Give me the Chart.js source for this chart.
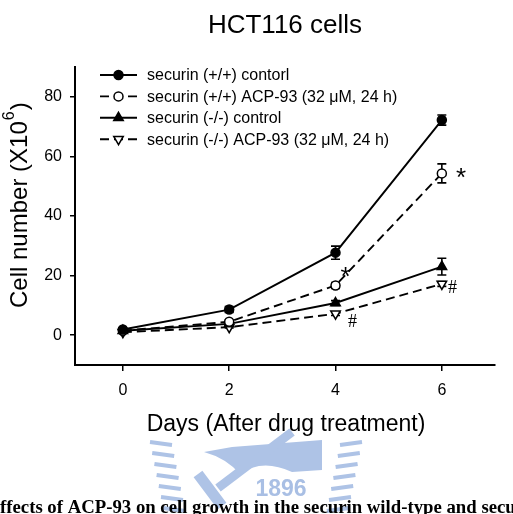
<!DOCTYPE html>
<html>
<head>
<meta charset="utf-8">
<script src="https://cdn.jsdelivr.net/npm/chart.js@4.4.1/dist/chart.umd.min.js"></script>
<style>
html, body { margin: 0; padding: 0; background: #fff; }
#chart { display: block; }
</style>
</head>
<body>
<canvas id="chart" width="513" height="514"></canvas>
<script>
// data
const days = [0, 2, 4, 6];
const seriesLabels = [
  'securin (+/+) contorl',
  'securin (+/+) ACP-93 (32 \u03BCM, 24 h)',
  'securin (-/-) control',
  'securin (-/-) ACP-93 (32 \u03BCM, 24 h)'
];
const wtControl = [1.9, 8.6, 27.7, 72.2];
const wtControlErr = [0.5, 1.0, 2.2, 1.7];
const wtAcp = [1.5, 4.5, 16.7, 54.3];
const wtAcpErr = [0.3, 0.6, 1.0, 3.2];
const koControl = [1.5, 3.8, 10.8, 23.0];
const koControlErr = [0.3, 0.4, 0.8, 2.8];
const koAcp = [1.0, 2.7, 7.2, 17.2];
const koAcpErr = [0.2, 0.3, 0.6, 0.8];
const xTicks = [0, 2, 4, 6];
const yTicks = [0, 20, 40, 60, 80];
// significance marks (day, value)
const sigText = ['*', '*', '#', '#'];
const sigDay = [6.36, 4.19, 4.32, 6.2];
const sigValue = [55.2, 21.7, 4.7, 16.3];

const FONT = '"Liberation Sans", Arial, sans-serif';
const errs = [wtControlErr, wtAcpErr, koControlErr, koAcpErr];

function makeSet(label, values, style, dash, fill, rot) {
  return {
    label: label,
    data: days.map((d, i) => ({ x: d, y: values[i] })),
    borderColor: '#000',
    borderWidth: 1.9,
    borderDash: dash,
    pointStyle: style,
    pointRadius: style === 'triangle' ? 5.5 : 4.5,
    pointRotation: rot,
    pointBackgroundColor: fill,
    pointBorderColor: '#000',
    pointBorderWidth: 1.5,
    fill: false,
    tension: 0
  };
}

const errorBars = {
  id: 'errorBars',
  beforeDatasetsDraw(chart) {
    const ctx = chart.ctx;
    const xs = chart.scales.x, ys = chart.scales.y;
    ctx.save();
    ctx.strokeStyle = '#000';
    ctx.lineWidth = 1.6;
    chart.data.datasets.forEach((set, i) => {
      set.data.forEach((p, j) => {
        const px = xs.getPixelForValue(p.x);
        const top = ys.getPixelForValue(p.y + errs[i][j]);
        const bot = ys.getPixelForValue(p.y - errs[i][j]);
        ctx.beginPath();
        ctx.moveTo(px, top); ctx.lineTo(px, bot);
        ctx.moveTo(px - 4.5, top); ctx.lineTo(px + 4.5, top);
        ctx.moveTo(px - 4.5, bot); ctx.lineTo(px + 4.5, bot);
        ctx.stroke();
      });
    });
    ctx.restore();
  }
};

const watermark = {
  id: 'watermark',
  beforeDraw(chart) {
    const ctx = chart.ctx;
    ctx.save();
    ctx.fillStyle = '#aec3e6';
    ctx.strokeStyle = '#aec3e6';
    // side stripes
    ctx.lineWidth = 4;
    for (let k = 0; k < 7; k++) {
      const yy = 442 + k * 11;
      ctx.beginPath();
      ctx.moveTo(150 + k * 2.2, yy); ctx.lineTo(172 + k * 2.2, yy + 3);
      ctx.stroke();
      ctx.beginPath();
      ctx.moveTo(362 - k * 2.2, yy); ctx.lineTo(340 - k * 2.2, yy + 3);
      ctx.stroke();
    }
    // anvil
    ctx.beginPath();
    ctx.moveTo(204, 452);
    ctx.lineTo(232, 447);
    ctx.lineTo(322, 440);
    ctx.lineTo(322, 470);
    ctx.lineTo(292, 472);
    ctx.quadraticCurveTo(262, 458, 240, 474);
    ctx.quadraticCurveTo(226, 458, 204, 452);
    ctx.fill();
    // hammer
    ctx.lineWidth = 9;
    ctx.beginPath();
    ctx.moveTo(218, 488); ctx.lineTo(292, 432);
    ctx.stroke();
    ctx.lineWidth = 11;
    ctx.beginPath();
    ctx.moveTo(198, 474); ctx.lineTo(222, 506);
    ctx.stroke();
    // base with year
    ctx.fillStyle = '#fff';
    ctx.fillRect(248, 477, 68, 24);
    ctx.fillStyle = '#a9bfe4';
    ctx.font = 'bold 23px ' + FONT;
    ctx.textAlign = 'center';
    ctx.textBaseline = 'middle';
    ctx.fillText('1896', 281, 490);
    ctx.restore();
  }
};

const decorations = {
  id: 'decorations',
  afterDraw(chart) {
    const ctx = chart.ctx;
    const xs = chart.scales.x, ys = chart.scales.y;
    const area = chart.chartArea;
    ctx.save();
    ctx.fillStyle = '#000';
    ctx.strokeStyle = '#000';

    // title
    ctx.font = '26px ' + FONT;
    ctx.textAlign = 'center';
    ctx.textBaseline = 'middle';
    ctx.fillText('HCT116 cells', (area.left + area.right) / 2, 26);

    // x title
    ctx.font = '23px ' + FONT;
    ctx.fillText('Days (After drug treatment)', 286, 425);

    // y title with superscript
    ctx.save();
    ctx.translate(20, 308);
    ctx.rotate(-Math.PI / 2);
    ctx.textAlign = 'left';
    ctx.font = '24px ' + FONT;
    const main = 'Cell number (X10';
    ctx.fillText(main, 0, 0);
    let w = ctx.measureText(main).width;
    ctx.font = '16px ' + FONT;
    ctx.fillText('6', w + 1, -10);
    w += ctx.measureText('6').width + 2;
    ctx.font = '24px ' + FONT;
    ctx.fillText(')', w, 0);
    ctx.restore();

    // legend
    ctx.font = '16px ' + FONT;
    ctx.textAlign = 'left';
    ctx.textBaseline = 'middle';
    chart.data.datasets.forEach((set, i) => {
      const yy = 75 + i * 21.4;
      ctx.lineWidth = set.borderWidth;
      ctx.setLineDash(set.borderDash || []);
      ctx.beginPath();
      ctx.moveTo(100, yy); ctx.lineTo(137, yy);
      ctx.stroke();
      ctx.setLineDash([]);
      ctx.fillStyle = set.pointBackgroundColor;
      ctx.lineWidth = set.pointBorderWidth;
      Chart.helpers.drawPoint(ctx, {
        pointStyle: set.pointStyle,
        radius: set.pointRadius,
        rotation: set.pointRotation || 0,
        borderWidth: set.pointBorderWidth
      }, 118.5, yy);
      ctx.fillStyle = '#000';
      ctx.fillText(seriesLabels[i], 147, yy + 1);
    });

    // significance marks
    ctx.textAlign = 'center';
    ctx.textBaseline = 'alphabetic';
    sigText.forEach((t, i) => {
      const px = xs.getPixelForValue(sigDay[i]);
      const py = ys.getPixelForValue(sigValue[i]);
      if (t === '*') {
        ctx.font = '26px ' + FONT;
        ctx.fillText(t, px, py + 0.57 * 26);
      } else {
        ctx.font = '18px "Liberation Serif", "Times New Roman", serif';
        ctx.fillText(t, px, py + 0.34 * 18);
      }
    });

    // caption (cut off by the page edges)
    const cap = 'Effects of ACP-93 on cell growth in the securin wild-type and securin-null cells';
    ctx.font = 'bold 17px "Liberation Serif", "Times New Roman", serif';
    const target = 'ffects of ACP-93 on cell growth in the securin wild-type and secu';
    const size = 17 * 516 / ctx.measureText(target).width;
    ctx.font = 'bold ' + size.toFixed(2) + 'px "Liberation Serif", "Times New Roman", serif';
    ctx.textAlign = 'left';
    ctx.fillText(cap, -ctx.measureText('E').width, 513);
    ctx.restore();
  }
};

new Chart(document.getElementById('chart'), {
  type: 'line',
  data: {
    datasets: [
      makeSet(seriesLabels[0], wtControl, 'circle', [], '#000', 0),
      makeSet(seriesLabels[1], wtAcp, 'circle', [9, 5], '#fff', 0),
      makeSet(seriesLabels[2], koControl, 'triangle', [], '#000', 0),
      makeSet(seriesLabels[3], koAcp, 'triangle', [9, 5], '#fff', 180)
    ]
  },
  options: {
    responsive: false,
    animation: false,
    devicePixelRatio: 1,
    layout: { padding: { top: 67, right: 18, left: 0, bottom: 0 } },
    plugins: {
      legend: { display: false },
      title: { display: false },
      tooltip: { enabled: false }
    },
    scales: {
      x: {
        type: 'linear',
        min: -0.9,
        max: 7,
        afterBuildTicks: s => { s.ticks = xTicks.map(v => ({ value: v })); },
        afterFit: s => { s.height = 149; },
        ticks: { color: '#000', font: { family: FONT, size: 16 }, padding: 10, maxRotation: 0 },
        grid: { drawOnChartArea: false, drawTicks: true, tickLength: 6, color: '#000', lineWidth: 1.5 },
        border: { color: '#000', width: 2 }
      },
      y: {
        type: 'linear',
        min: -10,
        max: 90,
        afterBuildTicks: s => { s.ticks = yTicks.map(v => ({ value: v })); },
        afterFit: s => { s.width = 75; },
        ticks: { color: '#000', font: { family: FONT, size: 16 }, padding: 8 },
        grid: { drawOnChartArea: false, drawTicks: true, tickLength: 5, color: '#000', lineWidth: 1.5 },
        border: { color: '#000', width: 2 }
      }
    }
  },
  plugins: [watermark, errorBars, decorations]
});
</script>
</body>
</html>
